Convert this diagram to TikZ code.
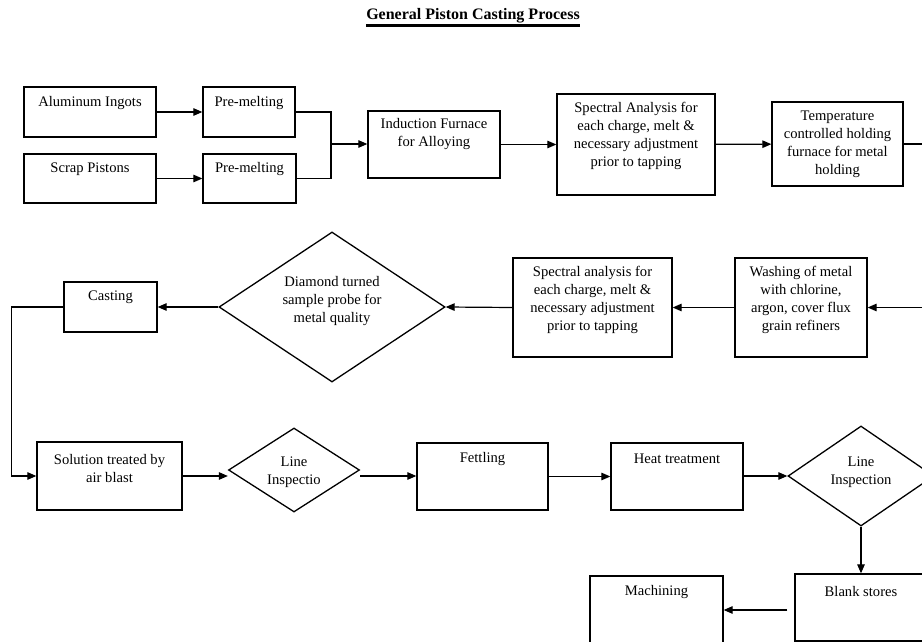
\documentclass[tikz,border=0pt]{standalone}
\usepackage{fontspec}
\setmainfont{Liberation Serif}
\usetikzlibrary{arrows.meta,shapes.geometric}

\tikzset{
  stepbox/.style={draw=black, line width=1.3pt, rectangle, inner sep=0pt},
  decision/.style={draw=black, line width=1.3pt, diamond, inner sep=0pt},
  lbl/.style={align=center, inner sep=0pt, font=\fontsize{14.6}{18}\selectfont},
  flow/.style={draw=black, line width=1.2pt},
  arr/.style={flow, -{Triangle[length=9pt,width=7.5pt]}},
}

\begin{document}
\begin{tikzpicture}[x=1pt, y=-1pt]
\path[use as bounding box] (0,0) rectangle (922,642);
\clip (0,0) rectangle (922,642);

% heading
\node[inner sep=0pt, anchor=base, font=\fontsize{16}{19}\selectfont\bfseries]
  (title) at (473,20) {General Piston Casting Process};
\draw[line width=2.6pt] ([yshift=-5.5pt]title.base west) -- ([yshift=-5.5pt]title.base east);

% first row: raw material to holding furnace
\node[stepbox, minimum width=132, minimum height=50, label={[lbl,yshift=9pt]center:Aluminum Ingots}] (alu) at (90,112) {};
\node[stepbox, minimum width=92, minimum height=50, label={[lbl,yshift=9pt]center:Pre-melting}] (pmA) at (249,112) {};
\node[stepbox, minimum width=132, minimum height=49, label={[lbl,yshift=9.5pt]center:Scrap Pistons}] (scrap) at (90,178.5) {};
\node[stepbox, minimum width=93, minimum height=49, label={[lbl,yshift=9.5pt]center:Pre-melting}] (pmB) at (249.5,178.5) {};
\node[stepbox, minimum width=132, minimum height=67, label={[lbl,yshift=10pt]center:Induction Furnace\\for Alloying}] (ind) at (434,144.5) {};
\node[stepbox, minimum width=158, minimum height=101, label={[lbl,yshift=8.5pt]center:Spectral Analysis for\\each charge, melt \&\\necessary adjustment\\prior to tapping}] (specA) at (636,144.5) {};
\node[stepbox, minimum width=131, minimum height=84, label={[lbl]center:Temperature\\controlled holding\\furnace for metal\\holding}] (temp) at (837.5,144) {};

% second row: treatment of the melt, right to left
\node[stepbox, minimum width=132, minimum height=99, label={[lbl,yshift=7.5pt]center:Washing of metal\\with chlorine,\\argon, cover flux\\grain refiners}] (wash) at (801,307.5) {};
\node[stepbox, minimum width=159, minimum height=99, label={[lbl,yshift=7.5pt]center:Spectral analysis for\\each charge, melt \&\\necessary adjustment\\prior to tapping}] (specB) at (592.5,307.5) {};
\node[decision, minimum width=226, minimum height=150, label={[lbl,yshift=6pt]center:Diamond turned\\sample probe for\\metal quality}] (probe) at (332,307) {};
\node[stepbox, minimum width=93, minimum height=50, label={[lbl,yshift=10pt]center:Casting}] (cast) at (110.5,307) {};

% third row: finishing
\node[stepbox, minimum width=145, minimum height=68, label={[lbl,yshift=7.5pt]center:Solution treated by\\air blast}] (sol) at (109.5,476) {};
\node[decision, minimum width=131, minimum height=84, label={[lbl,yshift=-2pt]center:Line\\Inspectio}] (inspA) at (294,470) {};
\node[stepbox, minimum width=131, minimum height=67, label={[lbl,yshift=17.5pt]center:Fettling}] (fet) at (482.5,476.5) {};
\node[stepbox, minimum width=132, minimum height=67, label={[lbl,yshift=17.5pt]center:Heat treatment}] (heat) at (677,476.5) {};
\node[decision, minimum width=146, minimum height=100, label={[lbl,yshift=4pt]center:Line\\Inspection}] (inspB) at (861,476) {};
\node[stepbox, minimum width=132, minimum height=67, label={[lbl,yshift=16pt]center:Blank stores}] (blank) at (861,607.5) {};
\node[stepbox, minimum width=133, minimum height=68, label={[lbl,yshift=18pt]center:Machining}] (mach) at (656.5,610) {};

% connectors
\coordinate (join) at (331,144);
\draw[arr] (alu) -- (pmA);
\draw[arr] (scrap) -- (pmB);
\draw[flow] (pmA.east) -| (join);
\draw[flow] (pmB.east) -| (join);
\draw[arr] (join) -- (join -| ind.west);
\draw[arr] (ind) -- (specA);
\draw[arr] (specA) -- (temp);
\draw[arr] (temp.east) -- (926,144) |- (wash.east);
\draw[arr] (wash) -- (specB);
\draw[arr] (specB.west) -- (probe.east);
\draw[arr] (probe.west) -- (cast.east);
\draw[arr] (cast.west) -- ++(-52,0) |- (sol.west);
\draw[arr] (sol.east) -- (sol.east -| inspA.west);
\draw[arr] (sol.east -| inspA.east) -- (sol.east -| fet.west);
\draw[arr] (fet) -- (heat);
\draw[arr] (heat.east |- inspB.west) -- (inspB.west);
\draw[arr] (inspB.south) -- (blank.north);
\draw[arr, shorten <=7pt] (mach.east -| blank.west) -- (mach.east);
\end{tikzpicture}
\end{document}
